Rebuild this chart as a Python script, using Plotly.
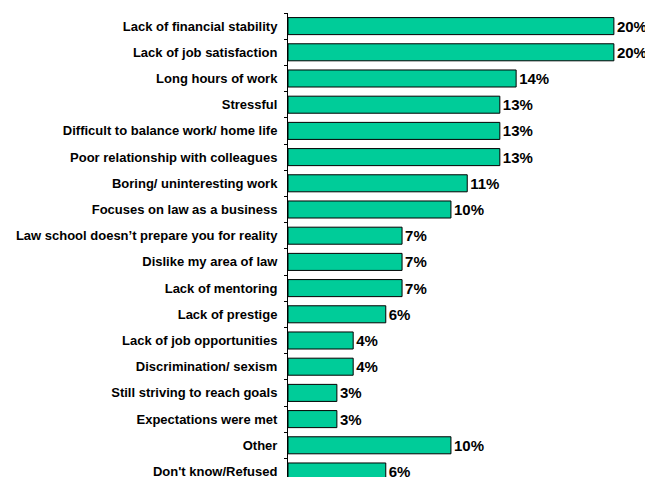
import plotly.graph_objects as go

# reasons, top to bottom
reasons = [
    "Lack of financial stability",
    "Lack of job satisfaction",
    "Long hours of work",
    "Stressful",
    "Difficult to balance work/ home life",
    "Poor relationship with colleagues",
    "Boring/ uninteresting work",
    "Focuses on law as a business",
    "Law school doesn\u2019t prepare you for reality",
    "Dislike my area of law",
    "Lack of mentoring",
    "Lack of prestige",
    "Lack of job opportunities",
    "Discrimination/ sexism",
    "Still striving to reach goals",
    "Expectations were met",
    "Other",
    "Don't know/Refused",
]
percent = [20, 20, 14, 13, 13, 13, 11, 10, 7, 7, 7, 6, 4, 4, 3, 3, 10, 6]

font_family = "Arial, Liberation Sans, sans-serif"

fig = go.Figure(
    go.Bar(
        x=percent,
        y=reasons,
        orientation="h",
        marker=dict(color="#00CC99", line=dict(color="black", width=1)),
        text=[f"{v}%" for v in percent],
        textposition="outside",
        textfont=dict(family=font_family, size=15, color="black", weight="bold"),
        cliponaxis=False,
    )
)

# page body has an 8px margin, so the figure is sized to fit inside the window
fig.update_layout(
    width=645,
    height=471,
    margin=dict(l=280, r=0, t=5, b=0),
    paper_bgcolor="white",
    plot_bgcolor="white",
    bargap=0.35,
    showlegend=False,
    font=dict(family=font_family, color="black"),
)

fig.update_xaxes(
    range=[0, 22.4],
    showgrid=False,
    zeroline=False,
    showline=False,
    showticklabels=False,
    ticks="",
)

fig.update_yaxes(
    type="category",
    range=[17.21, -0.5],
    showgrid=False,
    zeroline=False,
    showline=True,
    linecolor="black",
    linewidth=1,
    ticks="outside",
    tickson="boundaries",
    ticklen=3,
    tickcolor="black",
    tickwidth=1,
    ticklabelstandoff=7,
    tickfont=dict(family=font_family, size=13, color="black", weight="bold"),
)

fig.write_html("out.html")
